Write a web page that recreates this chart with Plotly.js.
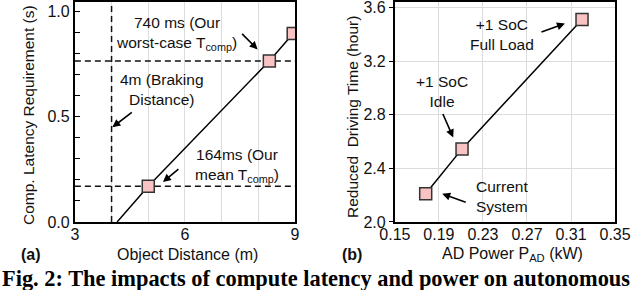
<!DOCTYPE html>
<html>
<head>
<meta charset="utf-8">
<script src="https://cdn.plot.ly/plotly-3.0.1.min.js"></script>
<style>html,body{margin:0;padding:0;background:#fff;}#chart{width:640px;height:290px;}</style>
</head>
<body>
<div id="chart"></div>
<script>
// (a) latency requirement vs object distance
const objectDistanceM = [4.15, 5.0, 8.3, 8.95];
const latencyReqS = [0.0, 0.17, 0.765, 0.895];
const brakingDistanceM = [4, 4];
const brakingSpanS = [0, 1.05];
const distanceSpanM = [3, 9];
const tcompWorstS = [0.765, 0.765];
const tcompMeanS = [0.17, 0.17];
const xTicksA = [3, 6, 9];
const yTicksA = [0, 0.5, 1.0];
const yTickTextA = ['0.0', '0.5', '1.0'];
const yMinorA = [0.1, 0.2, 0.3, 0.4, 0.6, 0.7, 0.8, 0.9];
const yGridA = [0.2, 0.4, 0.6, 0.8];

// (b) reduced driving time vs AD power
const adPowerKW = [0.178, 0.211, 0.32];
const drivingTimeH = [2.21, 2.545, 3.51];
const xTicksB = [0.15, 0.19, 0.23, 0.27, 0.31, 0.35];
const yTicksB = [2.0, 2.4, 2.8, 3.2, 3.6];

const FONT = 'Liberation Sans, Arial, sans-serif';
const MK = {symbol: 'square', size: 12, color: '#f9c3c3', line: {color: '#333', width: 1.5}};
const dash = {color: '#111', width: 1.5, dash: '6px,4px'};

const traces = [
  {x: brakingDistanceM, y: brakingSpanS, mode: 'lines', line: dash, xaxis: 'x', yaxis: 'y', hoverinfo: 'skip'},
  {x: distanceSpanM, y: tcompWorstS, mode: 'lines', line: dash, xaxis: 'x', yaxis: 'y', hoverinfo: 'skip'},
  {x: distanceSpanM, y: tcompMeanS, mode: 'lines', line: dash, xaxis: 'x', yaxis: 'y', hoverinfo: 'skip'},
  {x: objectDistanceM, y: latencyReqS, mode: 'lines', line: {color: '#000', width: 1.5}, xaxis: 'x', yaxis: 'y'},
  {x: objectDistanceM.slice(1), y: latencyReqS.slice(1), mode: 'markers', marker: MK, xaxis: 'x', yaxis: 'y'},
  {x: adPowerKW, y: drivingTimeH, mode: 'lines+markers', line: {color: '#000', width: 1.5}, marker: MK, xaxis: 'x2', yaxis: 'y2'}
];

const gridC = '#dcdcdc';
const axBase = {showline: true, mirror: true, linecolor: '#000', linewidth: 2, zeroline: false,
  tickfont: {family: FONT, size: 16, color: '#111'}, gridcolor: gridC, gridwidth: 1, fixedrange: true,
  ticklabeloverflow: 'allow'};

const ann = (x, y, text, xref, yref) => ({x, y, xref, yref, text, showarrow: false, xanchor: 'center', yanchor: 'middle',
  font: {family: FONT, size: 15.5, color: '#111'}, align: 'center'});
const arrow = (x, y, ax, ay, xref, yref) => ({x, y, ax, ay, xref, yref, text: '', showarrow: true,
  arrowhead: 2, arrowsize: 1, arrowwidth: 1.6, arrowcolor: '#000'});
const ptxt = (px, py, text, extra) => Object.assign({xref: 'paper', yref: 'paper', x: px / 640, y: 1 - py / 290,
  text, showarrow: false, xanchor: 'center', yanchor: 'middle', font: {family: FONT, size: 16, color: '#111'}}, extra || {});

const layout = {
  width: 640, height: 290, margin: {l: 0, r: 0, t: 0, b: 0},
  paper_bgcolor: '#fff', plot_bgcolor: '#fff', showlegend: false,
  xaxis: Object.assign({}, axBase, {domain: [0.117, 0.461], range: [3, 9], anchor: 'y',
    tickvals: xTicksA, showgrid: true, ticks: '', ticklabelstandoff: -3,
    minor: {dtick: 1, tick0: 3, showgrid: true, gridcolor: gridC, ticks: ''}}),
  yaxis: Object.assign({}, axBase, {domain: [0.2345, 0.993], range: [0, 1.045], anchor: 'x',
    tickvals: yTicksA, ticktext: yTickTextA, showgrid: false, ticks: 'inside', ticklen: 5, tickcolor: '#000',
    minor: {tickvals: yMinorA, ticks: 'inside', ticklen: 5, tickcolor: '#000', showgrid: false}}),
  yaxis3: {overlaying: 'y', anchor: 'x', range: [0, 1.045], tickvals: yGridA, showgrid: true, gridcolor: gridC,
    showticklabels: false, ticks: '', zeroline: false, showline: false, fixedrange: true},
  xaxis2: Object.assign({}, axBase, {domain: [0.617, 0.961], range: [0.15, 0.35], anchor: 'y2',
    tickvals: xTicksB, tickformat: '.2f', showgrid: true, ticks: '', ticklabelstandoff: -3}),
  yaxis2: Object.assign({}, axBase, {domain: [0.2345, 0.993], range: [2.0, 3.64], anchor: 'x2',
    tickvals: yTicksB, tickformat: '.1f', showgrid: true, ticks: 'outside', ticklen: 4, tickcolor: '#000'}),
  annotations: [
    ann(5.78, 0.895, '740 ms (Our<br>worst-case T<sub>comp</sub>)', 'x', 'y'),
    arrow(7.98, 0.82, -17, -17, 'x', 'y'),
    ann(5.37, 0.63, '4m (Braking<br>Distance)', 'x', 'y'),
    arrow(4.02, 0.45, 21, -16, 'x', 'y'),
    ann(7.42, 0.27, '164ms (Our<br>mean T<sub>comp</sub>)', 'x', 'y'),
    arrow(5.4, 0.19, 17, -14, 'x', 'y'),
    ann(0.247, 3.40, '+1 SoC<br>Full Load', 'x2', 'y2'),
    arrow(0.3045, 3.48, -25, 9, 'x2', 'y2'),
    ann(0.193, 2.97, '+1 SoC<br>Idle', 'x2', 'y2'),
    arrow(0.203, 2.63, -11, -25, 'x2', 'y2'),
    ann(0.247, 2.19, 'Current<br>System', 'x2', 'y2'),
    arrow(0.193, 2.21, 25, 9, 'x2', 'y2'),
    ptxt(28, 115, 'Comp. Latency Requirement (s)', {textangle: -90, font: {family: FONT, size: 15.5, color: '#111'}}),
    ptxt(352, 117, 'Reduced  Driving Time (hour)', {textangle: -90, font: {family: FONT, size: 15.5, color: '#111'}}),
    ptxt(187, 254, 'Object Distance (m)'),
    ptxt(512, 254, 'AD Power P<sub>AD</sub> (kW)'),
    ptxt(31, 254, '<b>(a)</b>'),
    ptxt(352, 254, '<b>(b)</b>'),
    ptxt(0, 278, '<b>Fig. 2: The impacts of compute latency and power on autonomous</b>',
      {xanchor: 'left', font: {family: 'Liberation Serif, serif', size: 22.4, color: '#000'}})
  ]
};

Plotly.newPlot('chart', traces, layout, {displayModeBar: false, staticPlot: true});
</script>
</body>
</html>
